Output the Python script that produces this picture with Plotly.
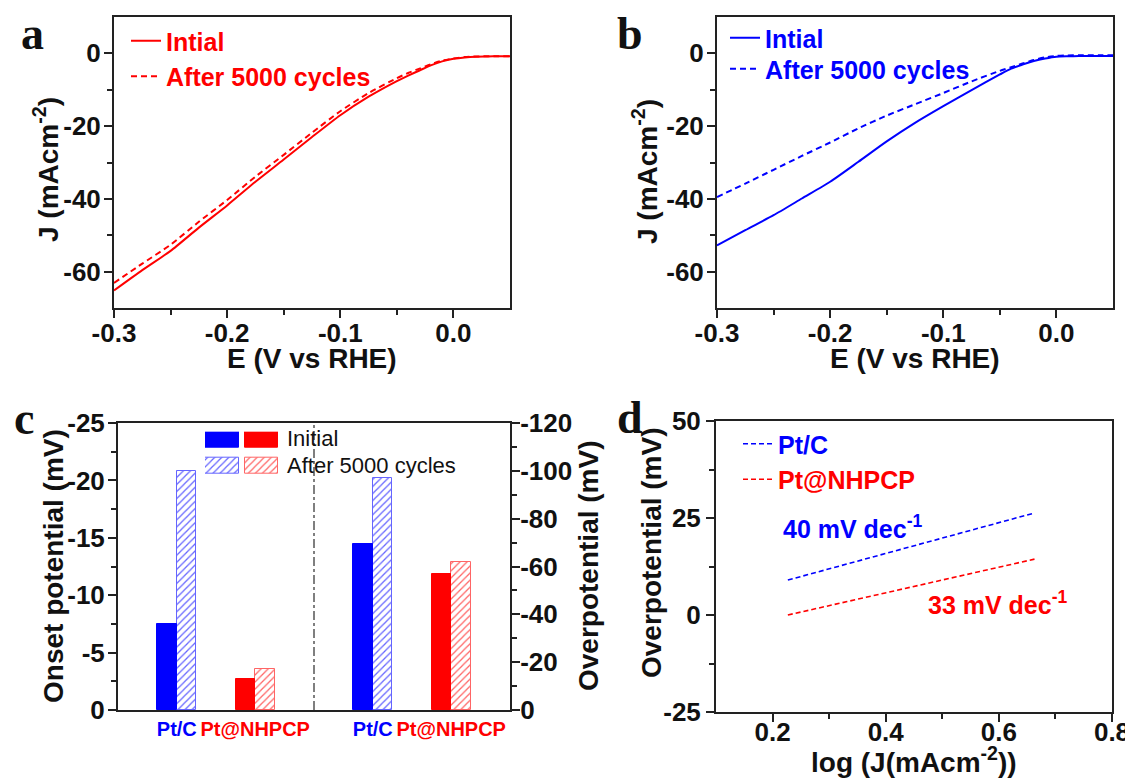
import plotly.graph_objects as go

W, H = 1133, 778
OFF = 8  # page body margin of the browser
FONT = "Arial, Liberation Sans, sans-serif"
SERIF = "Times New Roman, Liberation Serif, serif"
BLUE = "#0000ff"
RED = "#ff0000"
AXC = "#222222"

# ---------------- data ----------------
E_V = [-0.300, -0.275, -0.250, -0.225, -0.200, -0.175, -0.150, -0.125, -0.100, -0.075,
       -0.050, -0.040, -0.030, -0.020, -0.010, 0.000, 0.010, 0.020, 0.030, 0.040, 0.050]
J_a_initial = [-65.2, -59.6, -54.3, -47.9, -41.8, -35.3, -29.2, -23.0, -17.0, -11.9,
               -7.6, -6.1, -4.7, -3.3, -2.2, -1.5, -1.1, -0.9, -0.85, -0.8, -0.8]
J_a_after = [-63.1, -57.8, -52.6, -46.3, -40.3, -33.9, -27.9, -21.8, -15.9, -10.9,
             -6.8, -5.4, -4.2, -3.0, -2.0, -1.4, -1.0, -0.85, -0.8, -0.8, -0.8]
J_b_initial = [-52.8, -48.6, -44.5, -39.9, -35.3, -29.8, -24.2, -19.1, -14.5, -10.1,
               -5.8, -4.2, -3.1, -2.1, -1.4, -0.9, -0.8, -0.75, -0.7, -0.7, -0.7]
J_b_after = [-39.5, -35.8, -32.0, -28.2, -24.5, -20.6, -17.1, -14.0, -10.9, -7.7,
             -4.8, -3.8, -2.8, -1.8, -1.1, -0.7, -0.55, -0.5, -0.5, -0.5, -0.5]

bar_categories = ["Pt/C", "Pt@NHPCP"]
bar_colors = [BLUE, RED]
onset_initial = [-7.5, -2.7]
onset_after = [-20.8, -3.6]
overpot_initial = [-69.5, -57.0]
overpot_after = [-97.0, -62.0]

tafel_logJ = [0.227, 0.663]
tafel_eta_ptc = [9.0, 26.3]
tafel_eta_nhpcp = [0.0, 14.4]

# tick labels
E_ticks = [-0.3, -0.2, -0.1, 0.0]
E_ticktext = ["-0.3", "-0.2", "-0.1", "0.0"]
J_ticks = [0, -20, -40, -60]
J_ticktext = ["0", "-20", "-40", "-60"]
onset_ticks = [0, -5, -10, -15, -20, -25]
onset_ticktext = ["0", "-5", "-10", "-15", "-20", "-25"]
over_ticks = [0, -20, -40, -60, -80, -100, -120]
over_ticktext = ["0", "-20", "-40", "-60", "-80", "-100", "-120"]
logJ_ticks = [0.2, 0.4, 0.6, 0.8]
logJ_ticktext = ["0.2", "0.4", "0.6", "0.8"]
eta_ticks = [-25, 0, 25, 50]
eta_ticktext = ["-25", "0", "25", "50"]

# ---------------- helpers ----------------
def fx(px):
    return (px - OFF) / W


def fy(py):
    return 1 - (py - OFF) / H


def axis(domain, rng, tickvals, ticktext, minor_vals, **kw):
    d = dict(domain=domain, range=rng, showline=True, linecolor=AXC, linewidth=2,
             mirror=True, ticks="outside", ticklen=8, tickwidth=2, tickcolor=AXC,
             showgrid=False, zeroline=False, automargin=False, tickmode="array",
             tickvals=tickvals, ticktext=ticktext, tickangle=0,
             tickfont=dict(family=FONT, size=26, color="#111111", weight="bold"),
             minor=dict(ticks="outside", ticklen=5, tickwidth=2, tickcolor=AXC,
                        showgrid=False, tickmode="array", tickvals=minor_vals))
    d.update(kw)
    return d


fig = go.Figure()

# ---------------- panel a ----------------
fig.add_trace(go.Scatter(x=E_V, y=J_a_initial, mode="lines", name="Intial",
                         line=dict(color=RED, width=2, shape="spline", smoothing=0.6),
                         xaxis="x", yaxis="y", legend="legend"))
fig.add_trace(go.Scatter(x=E_V, y=J_a_after, mode="lines", name="After 5000 cycles",
                         line=dict(color=RED, width=2, dash="6px,4px", shape="spline",
                                   smoothing=0.6),
                         xaxis="x", yaxis="y", legend="legend"))
# ---------------- panel b ----------------
fig.add_trace(go.Scatter(x=E_V, y=J_b_initial, mode="lines", name="Intial",
                         line=dict(color=BLUE, width=2, shape="spline", smoothing=0.6),
                         xaxis="x2", yaxis="y2", legend="legend2"))
fig.add_trace(go.Scatter(x=E_V, y=J_b_after, mode="lines", name="After 5000 cycles",
                         line=dict(color=BLUE, width=2, dash="6px,4px", shape="spline",
                                   smoothing=0.6),
                         xaxis="x2", yaxis="y2", legend="legend4"))

# ---------------- panel c ----------------
BAR_W = 0.25
onset_pos = [1.0, 2.0]
over_pos = [3.5, 4.5]


def solid_bar(x, y, color, yaxis, width=BAR_W, base=None, xaxis="x3"):
    return go.Bar(x=[x], y=[y], width=width, base=base, xaxis=xaxis, yaxis=yaxis,
                  showlegend=False, hoverinfo="skip",
                  marker=dict(color=color, line=dict(color=color, width=1)))


def hatch_bar(x, y, color, yaxis, width=BAR_W, base=None, xaxis="x3"):
    return go.Bar(x=[x], y=[y], width=width, base=base, xaxis=xaxis, yaxis=yaxis,
                  showlegend=False, hoverinfo="skip",
                  marker=dict(color="white", line=dict(color=color, width=1),
                              pattern=dict(shape="/", fgcolor=color, bgcolor="white",
                                           size=5, solidity=0.25, fillmode="replace"),
                              opacity=0.6))


for i in range(len(bar_categories)):
    fig.add_trace(solid_bar(onset_pos[i] - BAR_W / 2, onset_initial[i], bar_colors[i], "y3"))
    fig.add_trace(hatch_bar(onset_pos[i] + BAR_W / 2, onset_after[i], bar_colors[i], "y3"))
    fig.add_trace(solid_bar(over_pos[i] - BAR_W / 2, overpot_initial[i], bar_colors[i], "y4"))
    fig.add_trace(hatch_bar(over_pos[i] + BAR_W / 2, overpot_after[i], bar_colors[i], "y4"))

# legend swatches for panel c (hidden mini axes)
for i, c in enumerate(bar_colors):
    fig.add_trace(solid_bar(i, 0.75, c, "y6", width=0.85, base=[1.25], xaxis="x5"))
    fig.add_trace(hatch_bar(i, 0.79, c, "y6", width=0.85, base=[0.0], xaxis="x5"))

# ---------------- panel d ----------------
fig.add_trace(go.Scatter(x=tafel_logJ, y=tafel_eta_ptc, mode="lines",
                         name="<span style='color:#0000ff'>Pt/C</span>",
                         line=dict(color=BLUE, width=1.6, dash="5px,3px"),
                         xaxis="x4", yaxis="y5", legend="legend3"))
fig.add_trace(go.Scatter(x=tafel_logJ, y=tafel_eta_nhpcp, mode="lines",
                         name="<span style='color:#ff0000'>Pt@NHPCP</span>",
                         line=dict(color=RED, width=1.6, dash="5px,3px"),
                         xaxis="x4", yaxis="y5", legend="legend3"))

# ---------------- layout ----------------
dom_ab_y = [fy(308), fy(17)]
cat_text = ["<span style='color:%s'>%s</span>" % (bar_colors[i % 2], bar_categories[i % 2])
            for i in range(4)]


def legend_at(px, py, color):
    return dict(x=fx(px), y=fy(py), xanchor="left", yanchor="top",
                bgcolor="rgba(0,0,0,0)", borderwidth=0,
                font=dict(family=FONT, size=25, color=color, weight="bold"))


layout = dict(
    template="none",
    width=W, height=H, autosize=False,
    margin=dict(l=0, r=0, t=0, b=0, pad=0),
    paper_bgcolor="white", plot_bgcolor="white",
    barmode="overlay", bargap=0,
    font=dict(family=FONT, color="#111111"),
    xaxis=axis([fx(114), fx(510)], [-0.3, 0.05], E_ticks, E_ticktext, [-0.25, -0.15, -0.05],
               anchor="y", ticklabelstandoff=-7),
    yaxis=axis(dom_ab_y, [-70, 10], J_ticks, J_ticktext, [-10, -30, -50], anchor="x",
               ticklabelstandoff=-2),
    xaxis2=axis([fx(717), fx(1113)], [-0.3, 0.05], E_ticks, E_ticktext, [-0.25, -0.15, -0.05],
                anchor="y2", ticklabelstandoff=-7),
    yaxis2=axis(dom_ab_y, [-70, 10], J_ticks, J_ticktext, [-10, -30, -50], anchor="x2",
                ticklabelstandoff=-2),
    xaxis3=dict(domain=[fx(118), fx(510)], range=[0.25, 5.25], anchor="y3", showline=True,
                linecolor=AXC, linewidth=2, mirror=True, ticks="", showgrid=False,
                zeroline=False, automargin=False, tickmode="array", tickangle=0,
                tickvals=onset_pos + over_pos, ticktext=cat_text,
                tickfont=dict(family=FONT, size=20, weight="bold")),
    yaxis3=axis([fy(710), fy(423)], [0, -25], onset_ticks, onset_ticktext,
                [-2.5, -7.5, -12.5, -17.5, -22.5], anchor="x3", mirror=False,
                ticklabelstandoff=-2),
    yaxis4=axis([fy(710), fy(423)], [0, -120], over_ticks, over_ticktext,
                [-10, -30, -50, -70, -90, -110], anchor="x3", overlaying="y3",
                side="right", mirror=False, ticklabelstandoff=-5),
    xaxis4=axis([fx(716), fx(1112)], [0.1, 0.8], logJ_ticks, logJ_ticktext, [0.3, 0.5, 0.7],
                anchor="y5", ticklabelstandoff=-12),
    yaxis5=axis([fy(712), fy(421)], [-25, 50], eta_ticks, eta_ticktext, [37.5, 12.5, -12.5],
                anchor="x4"),
    xaxis5=dict(domain=[fx(205), fx(278.5)], range=[-0.43, 1.43], visible=False,
                anchor="y6", fixedrange=True, automargin=False),
    yaxis6=dict(domain=[fy(474), fy(431.7)], range=[0, 2], visible=False, anchor="x5",
                fixedrange=True, automargin=False),
    legend=legend_at(126, 18, RED),
    legend2=legend_at(725, 15, BLUE),
    legend4=legend_at(725, 46, BLUE),
    legend3=legend_at(738, 421, "#111111"),
    shapes=[dict(type="line", xref="x3", yref="y3 domain", x0=2.75, x1=2.75, y0=0, y1=1,
                 line=dict(color="#555555", width=1.5, dash="dashdot"))],
)
fig.update_layout(**layout)


def ann(text, px, py, size=28, angle=0, color="#111111", family=FONT, weight="bold",
        xanchor="center"):
    fig.add_annotation(text=text, x=fx(px), y=fy(py), xref="paper", yref="paper",
                       showarrow=False, textangle=angle, xanchor=xanchor, yanchor="middle",
                       font=dict(family=family, size=size, color=color, weight=weight))


# axis titles
ann("J (mAcm<sup>-2</sup>)", 46, 170, angle=-90)
ann("E (V vs RHE)", 312, 358)
ann("J (mAcm<sup>-2</sup>)", 645, 172, angle=-90)
ann("E (V vs RHE)", 915, 358)
ann("Onset potential (mV)", 53, 566, angle=-90)
ann("Overpotential (mV)", 588, 566, angle=-90)
ann("Overpotential (mV)", 651, 553, angle=-90)
ann("log (J(mAcm<sup>-2</sup>))", 914, 760)
# panel c legend text
ann("Initial", 285, 438, size=22, weight="normal", xanchor="left")
ann("After 5000 cycles", 285, 465, size=22, weight="normal", xanchor="left")
# panel d slope labels
ann("40 mV dec<sup>-1</sup>", 853, 527, size=25, color=BLUE)
ann("33 mV dec<sup>-1</sup>", 998, 603, size=25, color=RED)
# panel letters
ann("a", 32, 33, size=46, family=SERIF)
ann("b", 630, 34, size=46, family=SERIF)
ann("c", 24, 419, size=46, family=SERIF)
ann("d", 630, 417, size=46, family=SERIF)

fig.write_html("out.html")
